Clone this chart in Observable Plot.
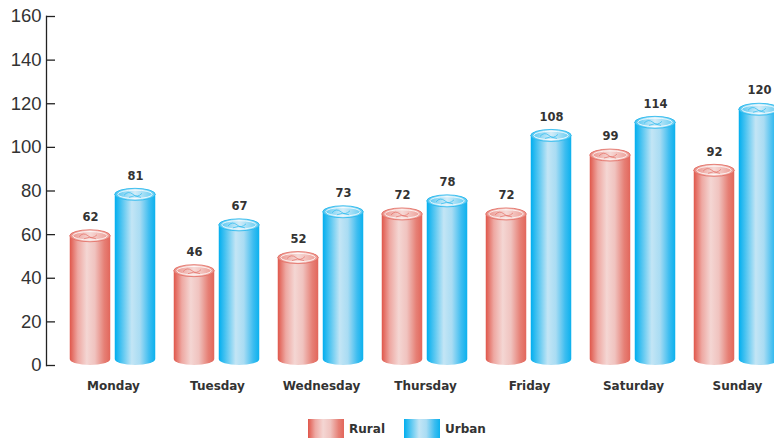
<!DOCTYPE html>
<html>
<head>
<meta charset="utf-8">
<script src="https://cdn.jsdelivr.net/npm/d3@7"></script>
<script src="https://cdn.jsdelivr.net/npm/@observablehq/plot@0.6"></script>
<style>
  html, body { margin: 0; padding: 0; overflow: hidden; background: #fff; }
  body { font-family: "Liberation Sans", Arial, Helvetica, sans-serif; }
  #chart svg { display: block; }
  .legend { display: flex; justify-content: center; gap: 19px; margin: 14px 0 0 10px; width: 774px;
            font-family: "DejaVu Sans", sans-serif; font-weight: bold; font-size: 12px; color: #333; }
  .legend .item { display: flex; align-items: center; gap: 5px; }
  .legend .sw { width: 36px; height: 19px; }
  .sw.rural { background: linear-gradient(to right, #e0564a 0%, #eea8a2 20%, #f4d6d3 42%, #f0c3bf 62%, #e68076 85%, #e2665b 100%); }
  .sw.urban { background: linear-gradient(to right, #00aeef 0%, #5cc8f1 20%, #c3e5f5 42%, #a9dcf3 62%, #3dbdf0 85%, #0bb1ee 100%); }
</style>
</head>
<body>
<div id="chart"></div>
<div class="legend">
  <div class="item"><div class="sw rural"></div><span>Rural</span></div>
  <div class="item"><div class="sw urban"></div><span>Urban</span></div>
</div>
<script>
// Visits per day of week, split by area
const days = ["Monday", "Tuesday", "Wednesday", "Thursday", "Friday", "Saturday", "Sunday"];
const rural = [62, 46, 52, 72, 72, 99, 92];
const urban = [81, 67, 73, 78, 108, 114, 120];
const yTicks = [0, 20, 40, 60, 80, 100, 120, 140, 160];

const rows = days.map((day, i) => ({day, rural: rural[i], urban: urban[i]}));

const textColor = "#333";
const boldFont = "'DejaVu Sans', sans-serif";

const plot = Plot.plot({
  width: 791,
  height: 405,
  marginLeft: 46,
  marginRight: 0,
  marginTop: 16,
  marginBottom: 40,
  style: {fontFamily: "'Liberation Sans', Arial, Helvetica, sans-serif", background: "#fff", maxWidth: "none"},
  x: {domain: days, range: [59, 791], padding: 0, label: null},
  y: {domain: [0, 160], label: null},
  marks: [
    // left axis line
    Plot.frame({anchor: "left", stroke: "#222", strokeWidth: 1.3}),
    // inward ticks
    Plot.axisY({ticks: yTicks, tickSize: -9, text: null, stroke: "#222", strokeWidth: 1.3}),
    // tick labels
    Plot.axisY({ticks: yTicks, tickSize: 0, tickPadding: 5, fontSize: 18.5, fill: "#333"}),
    Plot.axisX({tickSize: 0, tickPadding: 16, fontSize: 12, fontWeight: "bold", fontFamily: boldFont, fill: textColor}),
    Plot.barY(rows, {x: "day", y: "rural", fill: "url(#ruralGrad)", insetLeft: 8.75, insetRight: 54.75, rx: 20.5, ry: 6}),
    Plot.barY(rows, {x: "day", y: "urban", fill: "url(#urbanGrad)", insetLeft: 53.75, insetRight: 9.75, rx: 20.5, ry: 6}),
    Plot.text(rows, {x: "day", y: "rural", text: "rural", dx: -23, dy: -13, fontSize: 11.5, fontWeight: "bold", fontFamily: boldFont, fill: textColor}),
    Plot.text(rows, {x: "day", y: "urban", text: "urban", dx: 22, dy: -13, fontSize: 11.5, fontWeight: "bold", fontFamily: boldFont, fill: textColor})
  ]
});

// cylinder shading
const svg = d3.select(plot);
const defs = svg.insert("defs", ":first-child");
function grad(id, stops) {
  const g = defs.append("linearGradient").attr("id", id).attr("x1", "0%").attr("x2", "100%").attr("y1", "0%").attr("y2", "0%");
  stops.forEach(([o, c]) => g.append("stop").attr("offset", o).attr("stop-color", c));
}
grad("ruralGrad", [["0%", "#e0564a"], ["20%", "#eea8a2"], ["42%", "#f4d6d3"], ["62%", "#f0c3bf"], ["85%", "#e68076"], ["100%", "#e2665b"]]);
grad("urbanGrad", [["0%", "#00aeef"], ["20%", "#5cc8f1"], ["42%", "#c3e5f5"], ["62%", "#a9dcf3"], ["85%", "#3dbdf0"], ["100%", "#0bb1ee"]]);
grad("ruralCap", [["0%", "#ea8e86"], ["50%", "#f6d9d6"], ["100%", "#ec9890"]]);
grad("urbanCap", [["0%", "#4cc4f1"], ["50%", "#d3ecf8"], ["100%", "#5ccaf2"]]);

// top caps of each cylinder, placed from the rendered bars
const capFills = ["url(#ruralCap)", "url(#urbanCap)"];
const capStrokes = ["#e26a60", "#1fb6ee"];
svg.selectAll('g[aria-label="bar"]').each(function(_, gi) {
  const g = d3.select(this);
  g.selectAll("rect").each(function() {
    const r = d3.select(this);
    const x = +r.attr("x"), y = +r.attr("y"), w = +r.attr("width");
    const cx = x + w / 2, cy = y + 6;
    const cap = g.append("g");
    cap.append("ellipse").attr("cx", cx).attr("cy", cy).attr("rx", w / 2).attr("ry", 6)
      .attr("fill", capFills[gi]).attr("stroke", capStrokes[gi]).attr("stroke-width", 0.8);
    cap.append("ellipse").attr("cx", cx).attr("cy", cy).attr("rx", w / 2 - 3).attr("ry", 4.2)
      .attr("fill", "none").attr("stroke", "#fff").attr("stroke-width", 0.8);
    cap.append("path")
      .attr("d", `M${cx - 11},${cy + 1} q4,-5 9,-1 q4,4 9,-1 M${cx - 6},${cy + 3} q5,-3 12,0`)
      .attr("fill", "none").attr("stroke", capStrokes[gi]).attr("stroke-width", 0.8).attr("opacity", 0.8);
  });
});

document.getElementById("chart").append(plot);
</script>
</body>
</html>
